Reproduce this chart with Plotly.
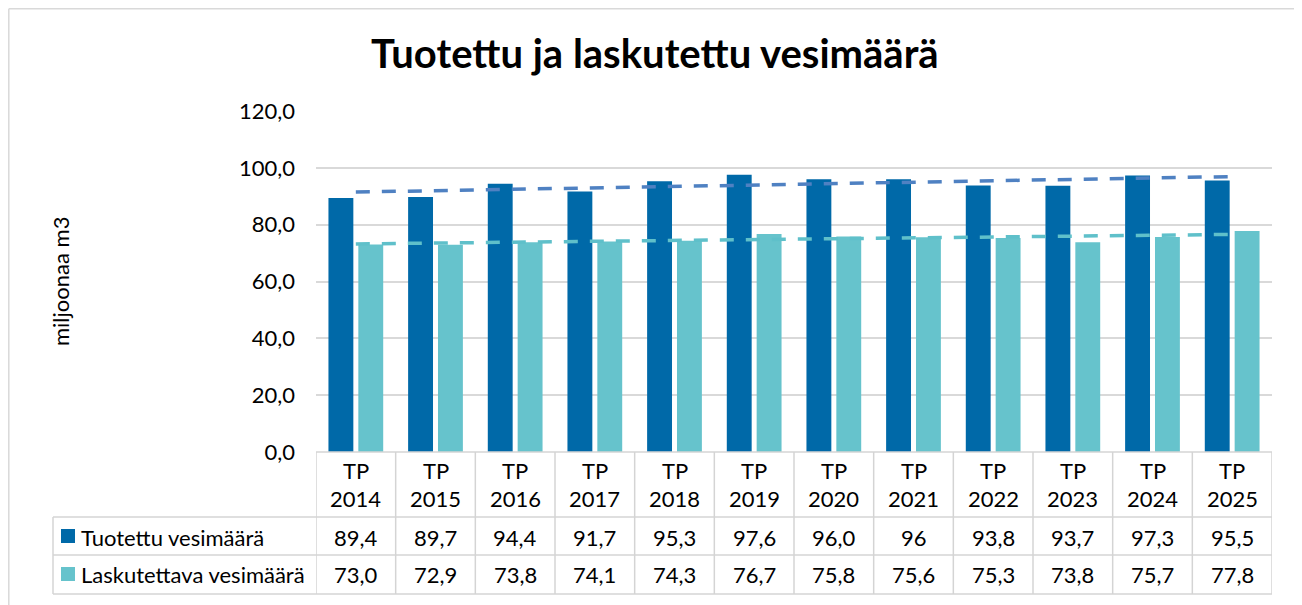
import numpy as np
import plotly.graph_objects as go

categories = ["TP 2014", "TP 2015", "TP 2016", "TP 2017", "TP 2018", "TP 2019",
              "TP 2020", "TP 2021", "TP 2022", "TP 2023", "TP 2024", "TP 2025"]
produced = [89.4, 89.7, 94.4, 91.7, 95.3, 97.6, 96.0, 96.0, 93.8, 93.7, 97.3, 95.5]
billed = [73.0, 72.9, 73.8, 74.1, 74.3, 76.7, 75.8, 75.6, 75.3, 73.8, 75.7, 77.8]
produced_text = ["89,4", "89,7", "94,4", "91,7", "95,3", "97,6", "96,0", "96", "93,8", "93,7", "97,3", "95,5"]
billed_text = ["73,0", "72,9", "73,8", "74,1", "74,3", "76,7", "75,8", "75,6", "75,3", "73,8", "75,7", "77,8"]
series_names = ["Tuotettu vesimäärä", "Laskutettava vesimäärä"]
y_ticks = [0, 20, 40, 60, 80, 100, 120]
y_tick_labels = ["0,0", "20,0", "40,0", "60,0", "80,0", "100,0", "120,0"]

W, H = 1302, 605
OFF = 8  # page body margin compensation
FONT = "Lato"
FS = 22
C_DARK = "#0069a8"
C_LIGHT = "#66c3cc"
C_TREND_DARK = "#4f81c2"
C_TREND_LIGHT = "#5fc0ca"
GRID = "#d9d9d9"


def fx(px):
    return (px - OFF) / W


def fy(py):
    return 1 - (py - OFF) / H


idx = np.arange(len(categories))
trend_p = np.polyval(np.polyfit(idx, produced, 1), idx)
trend_b = np.polyval(np.polyfit(idx, billed, 1), idx)

fig = go.Figure()
fig.add_trace(go.Bar(x=categories, y=produced, marker=dict(color=C_DARK, line=dict(width=0)),
                     name=series_names[0], showlegend=False))
fig.add_trace(go.Bar(x=categories, y=billed, marker=dict(color=C_LIGHT, line=dict(width=0)),
                     name=series_names[1], showlegend=False))
fig.add_trace(go.Scatter(x=categories, y=trend_p, mode="lines",
                         line=dict(color=C_TREND_DARK, width=3.5, dash="14px,12px"),
                         showlegend=False, hoverinfo="skip"))
fig.add_trace(go.Scatter(x=categories, y=trend_b, mode="lines",
                         line=dict(color=C_TREND_LIGHT, width=3.5, dash="14px,12px"),
                         showlegend=False, hoverinfo="skip"))

x0p, x1p = 316, 1272
fig.update_layout(
    template="none",
    width=W, height=H, autosize=False,
    margin=dict(l=0, r=0, t=0, b=0, pad=0),
    paper_bgcolor="white", plot_bgcolor="white",
    barmode="group", bargap=0.25, bargroupgap=0.167,
    font=dict(family=FONT, color="black", size=FS),
    xaxis=dict(domain=[fx(x0p), fx(x1p)], range=[-0.5, len(categories) - 0.5],
               showticklabels=False, showgrid=False, zeroline=False, showline=False,
               type="category", automargin=False, ticks=""),
    yaxis=dict(domain=[fy(452), fy(111)], range=[0, 120], tickvals=y_ticks,
               ticktext=y_tick_labels, showgrid=True, gridcolor=GRID, gridwidth=1.5,
               zeroline=False, showline=False, ticklabelstandoff=20, ticks="",
               automargin=False, tickfont=dict(family=FONT, size=FS, color="black")),
)

shapes = []
# outer chart border (kept inside visible figure area)
bl = dict(color=GRID, width=1.5)
shapes.append(dict(type="line", xref="paper", yref="paper", x0=fx(8.8), x1=fx(1297), y0=fy(8.8), y1=fy(8.8), line=bl))
shapes.append(dict(type="line", xref="paper", yref="paper", x0=fx(8.8), x1=fx(8.8), y0=fy(8.8), y1=fy(612), line=bl))
shapes.append(dict(type="line", xref="paper", yref="paper", x0=fx(1297), x1=fx(1297), y0=fy(8.8), y1=fy(612), line=bl))
lc = dict(color="#d4d4d4", width=1.5)
# table horizontal lines
shapes.append(dict(type="line", xref="paper", yref="paper", x0=fx(x0p), x1=fx(x1p), y0=fy(452), y1=fy(452), line=lc))
for yy in [517, 555, 594]:
    shapes.append(dict(type="line", xref="paper", yref="paper", x0=fx(53), x1=fx(x1p), y0=fy(yy), y1=fy(yy), line=lc))
# legend column left border
shapes.append(dict(type="line", xref="paper", yref="paper", x0=fx(53), x1=fx(53), y0=fy(517), y1=fy(594), line=lc))
# vertical category boundaries
for i in range(len(categories) + 1):
    xb = i - 0.5
    shapes.append(dict(type="line", xref="x", yref="paper", x0=xb, x1=xb, y0=fy(452), y1=fy(594), line=lc))
# legend keys
for yc, col in [(536, C_DARK), (574, C_LIGHT)]:
    shapes.append(dict(type="rect", xref="paper", yref="paper", x0=fx(61), x1=fx(75),
                       y0=fy(yc + 7), y1=fy(yc - 7), fillcolor=col, line=dict(width=0)))

ann = []
ann.append(dict(text="<b>Tuotettu ja laskutettu vesimäärä</b>", xref="paper", yref="paper",
                x=fx(655), y=fy(53), xanchor="center", yanchor="middle", showarrow=False,
                font=dict(family=FONT, size=40, color="black")))
ann.append(dict(text="miljoonaa m3", xref="paper", yref="paper", x=fx(60), y=fy(282),
                xanchor="center", yanchor="middle", textangle=-90, showarrow=False,
                font=dict(family=FONT, size=FS, color="black")))
for c, pt, bt in zip(categories, produced_text, billed_text):
    top, bottom = c.split(" ")
    for txt, yy in [(top, 470), (bottom, 498), (pt, 537), (bt, 574)]:
        ann.append(dict(text=txt, xref="x", yref="paper", x=c, y=fy(yy), xanchor="center",
                        yanchor="middle", showarrow=False, font=dict(family=FONT, size=FS)))
for name, yc in zip(series_names, [537, 574]):
    ann.append(dict(text=name, xref="paper", yref="paper", x=fx(79), y=fy(yc), xanchor="left",
                    yanchor="middle", showarrow=False, font=dict(family=FONT, size=FS)))

fig.update_layout(shapes=shapes, annotations=ann)
fig.write_html("out.html")
